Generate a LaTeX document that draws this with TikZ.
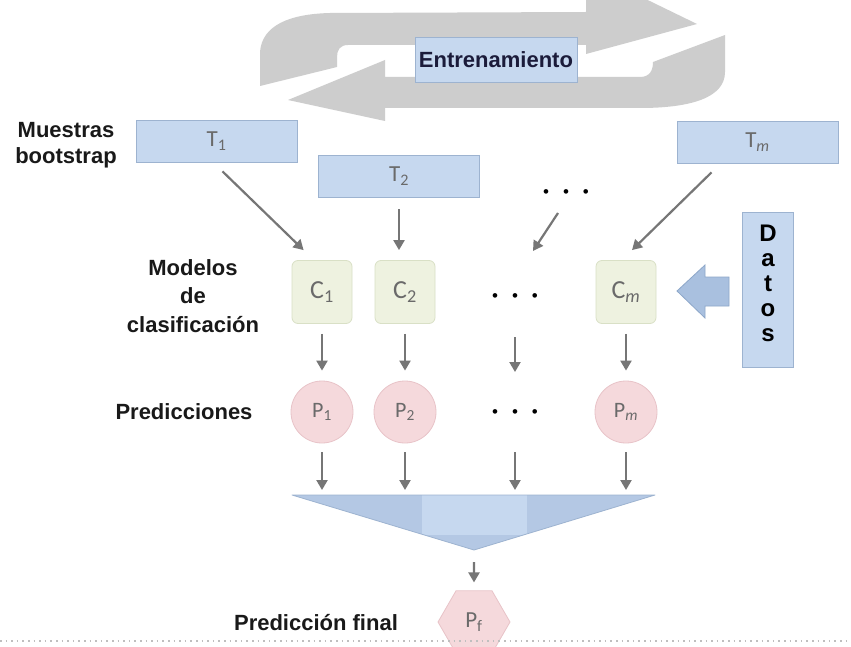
\documentclass[tikz,border=0pt]{standalone}
\usepackage{fontspec}
\setmainfont{Liberation Sans}
\newfontfamily\calib{Carlito}
\usetikzlibrary{arrows.meta,shapes.geometric,calc}
\definecolor{boxblue}{HTML}{C6D8EF}
\definecolor{boxedge}{HTML}{9DB3D0}
\definecolor{cgreen}{HTML}{EEF2E0}
\definecolor{cedge}{HTML}{D9E0C6}
\definecolor{ppink}{HTML}{F5D9DC}
\definecolor{pedge}{HTML}{E8C3C8}
\definecolor{arrowgray}{HTML}{767676}
\definecolor{loopgray}{HTML}{CDCDCD}
\definecolor{labgray}{HTML}{6A6A6A}
\definecolor{navy}{HTML}{1B1B3A}
\definecolor{tridark}{HTML}{B4C8E4}
\definecolor{trilight}{HTML}{C6D8EF}
\definecolor{datarrow}{HTML}{A9C0DF}
\definecolor{datedge}{HTML}{8DA7C9}
\tikzset{
  tbox/.style={rectangle, fill=boxblue, draw=boxedge, line width=0.8pt, minimum width=161pt, minimum height=42pt, inner sep=0pt,
    font=\calib\fontsize{23}{24}\selectfont, text=labgray},
  cbox/.style={rectangle, rounded corners=6pt, fill=cgreen, draw=cedge, line width=0.8pt, minimum width=60pt, minimum height=63pt, inner sep=0pt,
    font=\calib\fontsize{26}{28}\selectfont, text=labgray},
  pcirc/.style={circle, fill=ppink, draw=pedge, line width=0.8pt, minimum size=62pt, inner sep=0pt,
    font=\calib\fontsize{22}{24}\selectfont, text=labgray},
  hexnode/.style={regular polygon, regular polygon sides=6, fill=ppink, draw=pedge, line width=0.8pt, minimum size=72pt, inner sep=0pt,
    font=\calib\fontsize{23}{24}\selectfont, text=labgray},
  lbl/.style={font=\bfseries\fontsize{22}{26}\selectfont, text=black!90, align=center, inner sep=0pt},
  dotsnode/.style={font=\fontsize{17}{18}\selectfont, inner sep=0pt},
  arr/.style={draw=arrowgray, line width=2.2pt, -{Triangle[length=10pt,width=11pt]}},
}
\newcommand{\threedots}{\textbullet\hspace{14pt}\textbullet\hspace{14pt}\textbullet}
\begin{document}
\begin{tikzpicture}[x=1pt,y=-1pt]
\useasboundingbox (0,0) rectangle (851,647);
\fill[white] (0,0) rectangle (851,647);
% training loop arrows
\begin{scope}
\clip (0,0) rectangle (851,647);
\fill[loopgray] (260,86) -- (260,52) .. controls (262,25) and (290,14) .. (330,13) -- (586,12) -- (586,-30) -- (697,24) -- (586,54) -- (586,45) -- (348,45) .. controls (340,45) and (337,50) .. (337,57) -- (337,67) -- cycle;
\fill[loopgray] (288,100) -- (385,60) -- (385,77) -- (640,77) .. controls (650,77) and (653,70) .. (653,62) -- (725,35) -- (725,72) .. controls (725,98) and (690,108) .. (640,108) -- (385,108) -- (385,121) -- cycle;
\end{scope}
\node[rectangle, fill=boxblue, draw=boxedge, line width=0.8pt, minimum width=162pt, minimum height=45pt, inner sep=0pt,
  font=\bfseries\fontsize{22}{24}\selectfont, text=navy] (entr) at (496,60) {Entrenamiento};

% left labels
\node[lbl] (lmuestras) at (66,145) {Muestras\\bootstrap};
\node[lbl, font=\bfseries\fontsize{22}{28.5}\selectfont] (lmodelos) at (193,296) {Modelos\\de\\clasificación};
\node[lbl] (lpred) at (184,412) {Predicciones};
\node[lbl] (lfinal) at (316,623) {Predicción final};

% bootstrap samples
\node[tbox] (T1) at (216.5,141) {T\textsubscript{1}};
\node[tbox] (T2) at (399,176) {T\textsubscript{2}};
\node[tbox] (Tm) at (757.5,142) {T\textsubscript{\itshape m}};
\node[dotsnode] (dots1) at (566,194) {\threedots};

% classifiers
\node[cbox] (C1) at (322,292) {C\textsubscript{1}};
\node[cbox] (C2) at (405,292) {C\textsubscript{2}};
\node[dotsnode] (dots2) at (515,298) {\threedots};
\node[cbox] (Cm) at (626,292) {C\textsubscript{\itshape m}};

% predictions
\node[pcirc] (P1) at (322,412) {P\textsubscript{1}};
\node[pcirc] (P2) at (405,412) {P\textsubscript{2}};
\node[dotsnode] (dots3) at (515,414) {\threedots};
\node[pcirc] (Pm) at (626,412) {P\textsubscript{\itshape m}};

% data
\node[rectangle, fill=boxblue, draw=boxedge, line width=0.8pt, minimum width=51pt, minimum height=155pt, inner sep=0pt] (datos) at (767.5,289.5) {};
\node[font=\bfseries\fontsize{24}{25}\selectfont, align=center, inner sep=0pt] (datostxt) at (768,283) {D\\a\\t\\o\\s};
\fill[datarrow, draw=datedge, line width=0.8pt] (729,277) -- (705,277) -- (705,265) -- (677,291) -- (705,318) -- (705,306) -- (729,306) -- cycle;

% aggregation triangle
\coordinate (triL) at (292,495);
\coordinate (triR) at (655,495);
\coordinate (apex) at (474,550);
\fill[tridark] (triL) -- (triR) -- (apex) -- cycle;
\begin{scope}
\clip (triL) -- (triR) -- (apex) -- cycle;
\fill[trilight] (422,495) rectangle (527,535);
\end{scope}
\draw[boxedge, line width=0.8pt, line join=round] (triL) -- (triR) -- (apex) -- cycle;

\coordinate (tr1) at (322,490);
\coordinate (tr2) at (405,490);
\coordinate (tr3) at (515,490);
\coordinate (tr4) at (626,490);

% final prediction
\node[hexnode] (Pf) at (474,622) {P\textsubscript{f}};
\draw[draw=black!25, line width=1.6pt, dash pattern=on 1.6pt off 4pt] (0,641) -- (851,641);

% connectors
\draw[arr] ($(T1.south)+(6,9)$) -- ($(C1.north west)+(12,-10)$);
\draw[arr] ($(T2.south)+(0,12)$) -- ($(T2.south |- C2.north)+(0,-10)$);
\draw[arr] ($(dots1)+(-8,19)$) -- ($(dots1)+(-33,57)$);
\draw[arr] ($(Tm.south)+(-46,9)$) -- ($(Cm.north)+(6,-10)$);

\draw[arr, shorten <=10pt, shorten >=10pt] (C1.south) -- (P1.north);
\draw[arr, shorten <=10pt, shorten >=10pt] (C2.south) -- (P2.north);
\draw[arr] ($(dots2)+(0,39)$) -- ($(dots2)+(0,74)$);
\draw[arr, shorten <=10pt, shorten >=10pt] (Cm.south) -- (Pm.north);

\draw[arr, shorten <=9pt] (P1.south) -- (tr1);
\draw[arr, shorten <=9pt] (P2.south) -- (tr2);
\draw[arr] ($(dots3)+(0,38)$) -- (tr3);
\draw[arr, shorten <=9pt] (Pm.south) -- (tr4);

\draw[arr, shorten <=12pt, shorten >=8pt] (apex) -- (Pf.north);
\end{tikzpicture}
\end{document}
